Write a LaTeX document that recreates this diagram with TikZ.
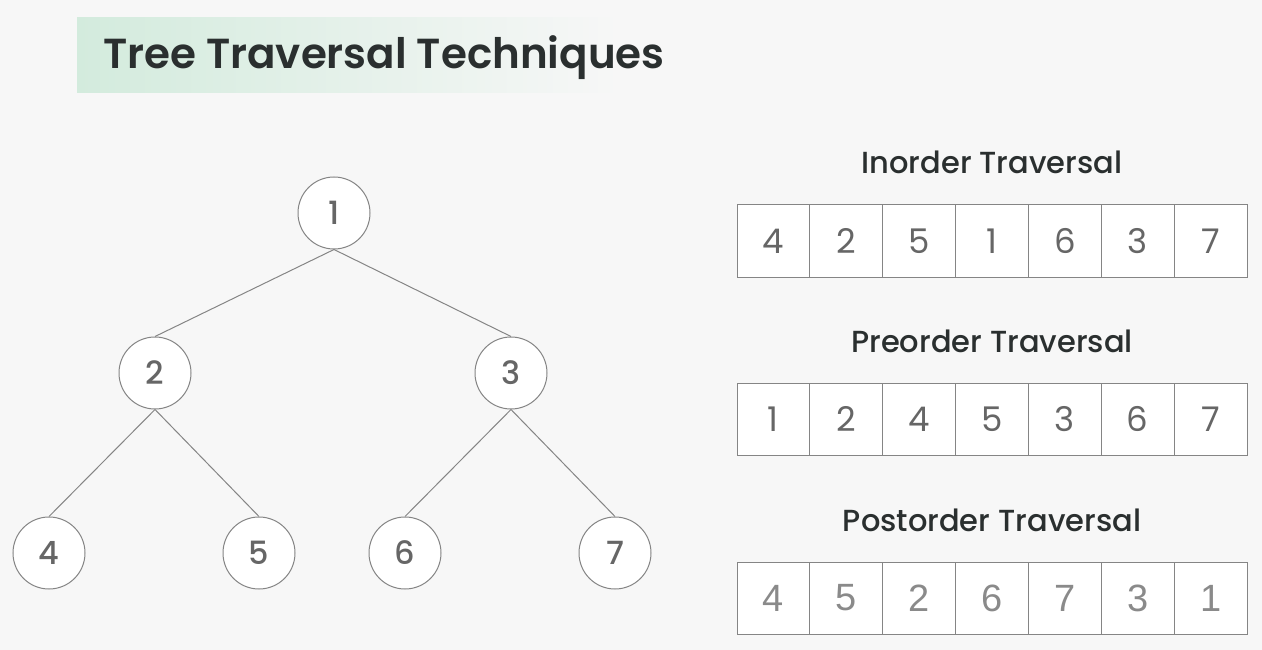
\documentclass[tikz,border=0pt]{standalone}
\usepackage{fontspec}
\setmainfont{Poppins}
\newfontfamily\titlefont{Poppins SemiBold}
\newfontfamily\headfont{Poppins Medium}
\newfontfamily\arialfont{Liberation Sans}
\usepackage{tikz}
\usetikzlibrary{positioning}
\usepackage{xcolor}
\definecolor{bgcol}{HTML}{F7F7F7}
\definecolor{titlegreen}{HTML}{D3EBDD}
\definecolor{titleink}{HTML}{2A2F2F}
\definecolor{lineink}{HTML}{858585}
\definecolor{numink}{HTML}{666666}
\definecolor{lightnum}{HTML}{8A8A8A}

\begin{document}
\begin{tikzpicture}[x=1pt, y=-1pt,
    vertex/.style={circle, draw=lineink, fill=white, line width=1pt, minimum size=72pt, inner sep=0pt, text=numink, font=\headfont\fontsize{32}{32}\selectfont},
    cell/.style={rectangle, draw=lineink, fill=white, line width=1pt, minimum width=72.86pt, minimum height=72pt, inner sep=0pt, text=numink, font=\fontsize{34}{34}\selectfont},
    lightcell/.style={cell, text=lightnum, font=\arialfont\fontsize{38}{38}\selectfont},
    heading/.style={text=titleink, font=\headfont\fontsize{30.5}{30.5}\selectfont},
    edge/.style={draw=lineink, line width=1pt}]
    \useasboundingbox (0,0) rectangle (1262,650);
    \fill[bgcol] (0,0) rectangle (1262,650);

    % title bar
    \shade[left color=titlegreen, right color=bgcol] (77,18) rectangle (620,93);
    \node[anchor=base west, text=titleink, font=\titlefont\fontsize{42}{42}\selectfont, inner sep=0pt] (title) at (103,69) {Tree Traversal Techniques};

    % tree
    \node[vertex] (n1) at (334,213) {1};
    \node[vertex] (n2) at (155,373) {2};
    \node[vertex] (n3) at (511,373) {3};
    \node[vertex] (n4) at (49,553) {4};
    \node[vertex] (n5) at (259,553) {5};
    \node[vertex] (n6) at (405,553) {6};
    \node[vertex] (n7) at (615,553) {7};
    \draw[edge] (n1.south) -- (n2.north);
    \draw[edge] (n1.south) -- (n3.north);
    \draw[edge] (n2.south) -- (n4.north);
    \draw[edge] (n2.south) -- (n5.north);
    \draw[edge] (n3.south) -- (n6.north);
    \draw[edge] (n3.south) -- (n7.north);

    % traversal arrays
    \node[heading] (inhead) at (992,162) {Inorder Traversal};
    \foreach \v [count=\i] in {4,2,5,1,6,3,7}
        \node[cell] (in\i) at ({737+72.86*(\i-0.5)},241) {\v};

    \node[heading] (prehead) at (992,341) {Preorder Traversal};
    \foreach \v [count=\i] in {1,2,4,5,3,6,7}
        \node[cell] (pre\i) at ({737+72.86*(\i-0.5)},419) {\v};

    \node[heading] (posthead) at (992,520) {Postorder Traversal};
    \foreach \v [count=\i] in {4,5,2,6,7,3,1}
        \node[lightcell] (post\i) at ({737+72.86*(\i-0.5)},598) {\v};
\end{tikzpicture}
\end{document}
